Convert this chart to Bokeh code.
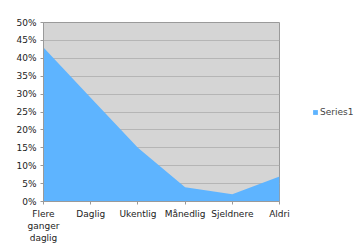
from bokeh.plotting import figure
from bokeh.models import FixedTicker, NumeralTickFormatter, Legend, LegendItem, Range1d
from bokeh.embed import file_html
from bokeh.resources import INLINE

categories = ["Flere\nganger\ndaglig", "Daglig", "Ukentlig", "Månedlig", "Sjeldnere", "Aldri"]
series1 = [0.43, 0.29, 0.15, 0.04, 0.02, 0.07]
y_ticks = [0.0, 0.05, 0.10, 0.15, 0.20, 0.25, 0.30, 0.35, 0.40, 0.45, 0.50]

xs = list(range(len(categories)))

p = figure(frame_width=236, frame_height=179, output_backend="svg", toolbar_location=None,
           x_range=Range1d(0, len(categories) - 1), y_range=Range1d(0, 0.5),
           min_border_left=43, min_border_top=22, min_border_bottom=44, min_border_right=75)

p.background_fill_color = "#d5d5d5"
p.border_fill_color = "white"
p.outline_line_color = "#9a9a9a"
p.outline_line_width = 1

r = p.varea(x=xs, y1=[0] * len(xs), y2=series1, fill_color="#5eb4ff")

p.xgrid.visible = False
p.ygrid.grid_line_color = "#b5b5b5"
p.ygrid.grid_line_width = 1

font = "DejaVu Sans"
p.yaxis.ticker = FixedTicker(ticks=y_ticks)
p.yaxis.formatter = NumeralTickFormatter(format="0%")
p.xaxis.ticker = FixedTicker(ticks=xs)
p.xaxis.major_label_overrides = {i: c for i, c in enumerate(categories)}

for ax in (p.xaxis[0], p.yaxis[0]):
    ax.major_label_text_font = font
    ax.major_label_text_font_size = "9px"
    ax.major_label_text_color = "#222222"
    ax.axis_line_color = "#9a9a9a"
    ax.major_tick_line_color = "#9a9a9a"
    ax.major_tick_in = 0
    ax.major_tick_out = 3
    ax.minor_tick_line_color = None
    ax.major_label_standoff = 4

legend = Legend(items=[LegendItem(label="Series1", renderers=[r])],
                location=(33, 84), border_line_color=None, background_fill_alpha=0,
                label_text_font=font, label_text_font_size="9px",
                glyph_width=6, glyph_height=6, label_standoff=2, padding=0,
                label_height=10)
legend.margin = 0
p.add_layout(legend, "right")

open("out.html", "w").write(file_html(p, INLINE))
